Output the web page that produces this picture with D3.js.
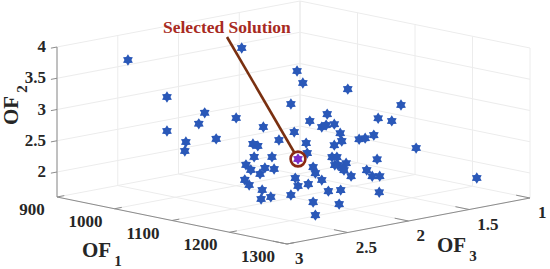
<!DOCTYPE html>
<html>
<head>
<meta charset="utf-8">
<script src="https://cdn.jsdelivr.net/npm/d3@7"></script>
<style>
html, body { margin: 0; padding: 0; background: #fff; }
text { font-family: "Liberation Serif", serif; font-weight: bold; fill: #262626; }
</style>
</head>
<body>
<div id="chart"></div>
<script>
var of1Ticks = [900, 1000, 1100, 1200, 1300];
var of2Ticks = [2, 2.5, 3, 3.5, 4];
var of2TickLabels = ["2", "2.5", "3", "3.5", "4"];
var of3Ticks = [3, 2.5, 2, 1.5, 1];
var of3TickLabels = ["3", "2.5", "2", "1.5", "1"];

var of1Values = [960, 993, 993, 1009, 1008, 1056, 1103, 1224, 1232, 1245, 1296,
    1231, 1269, 1221, 1148, 1143, 1175, 1198, 1295, 1237, 1252, 1247, 1251, 1258, 1263, 1224,
    1279, 1284, 1291, 1158, 1189, 1193, 1211, 1234, 1235, 1190, 1205, 1183, 1187, 1199, 1195,
    1207, 1182, 1186, 1197, 1196, 1204, 1221, 1225, 1227, 1236, 1240, 1242, 1247, 1253, 1263,
    1240, 1262, 1242, 1296, 1296, 1290, 1285, 1272, 1266, 1268, 1258, 1256, 1260, 1261, 1265,
    1294, 1258, 1264];
var of2Values = [3.794, 3.204, 2.66, 2.484, 2.34, 3.99, 3.624, 2.976, 3.232, 2.545, 2.067,
    3.878, 3.782, 3.542, 3.398, 3.222, 3.318, 3.174, 3.318, 3.27, 3.382, 3.174, 3.206, 3.222, 3.078, 3.094,
    2.982, 2.998, 3.046, 2.982, 2.902, 2.87, 2.966, 2.918, 2.758, 2.694, 2.694, 2.566, 2.486, 2.518, 2.422,
    2.502, 2.326, 2.246, 2.166, 2.022, 2.054, 2.086, 2.358, 2.23, 2.262, 2.534, 2.438, 2.326, 2.15, 2.166,
    1.974, 1.942, 1.766, 2.134, 2.39, 2.39, 2.486, 2.39, 2.486, 2.598, 2.566, 2.694, 2.694, 2.566, 2.518,
    2.662, 2.886, 2.95];
var of3Values = [2.7, 2.535, 2.535, 2.455, 2.459, 2.218, 1.985, 1.778, 1.74, 1.677, 1.419,
    2.543, 2.353, 2.594, 2.958, 2.983, 2.827, 2.712, 2.226, 2.514, 2.442, 2.463, 2.446, 2.412, 2.387, 2.581,
    2.307, 2.281, 2.243, 2.911, 2.755, 2.734, 2.645, 2.53, 2.526, 2.75, 2.674, 2.784, 2.763, 2.704, 2.725,
    2.666, 2.789, 2.772, 2.717, 2.721, 2.679, 2.594, 2.577, 2.564, 2.522, 2.501, 2.492, 2.463, 2.437, 2.383,
    2.501, 2.391, 2.492, 2.222, 2.218, 2.251, 2.273, 2.34, 2.37, 2.362, 2.408, 2.421, 2.4, 2.395, 2.374,
    2.23, 2.412, 2.379];
var selected = [1227, 2.662, 2.564];

function init() {
    var w = 550;
    var h = 269;

    var u = d3.scaleLinear().domain([900, 1300]).range([0, 1]);
    var v = d3.scaleLinear().domain([3, 1]).range([0, 1]);
    var z = d3.scaleLinear().domain([1.6, 4]).range([0, 150]);

    // flat projection of the box, left corner is OF1=900 OF3=3
    function px(a, b) {
        return 57 + 230 * u(a) + 243 * v(b);
    }
    function py(a, b, c) {
        return 197 + 47 * u(a) - 46 * v(b) - z(c);
    }

    var svg = d3.select("#chart")
        .append("svg")
        .attr("width", w)
        .attr("height", h)
        .style("display", "block");

    function seg(a1, b1, c1, a2, b2, c2, col, sw) {
        svg.append("line")
            .attr("x1", px(a1, b1)).attr("y1", py(a1, b1, c1))
            .attr("x2", px(a2, b2)).attr("y2", py(a2, b2, c2))
            .attr("stroke", col)
            .attr("stroke-width", sw);
    }

    var gridCol = "#ececec";
    // floor
    of1Ticks.forEach(function(t) { seg(t, 3, 1.6, t, 1, 1.6, gridCol, 1); });
    of3Ticks.forEach(function(t) { seg(900, t, 1.6, 1300, t, 1.6, gridCol, 1); });
    // wall at OF1=900
    of2Ticks.forEach(function(t) { seg(900, 3, t, 900, 1, t, gridCol, 1); });
    of3Ticks.forEach(function(t) { seg(900, t, 1.6, 900, t, 4, gridCol, 1); });
    // wall at OF3=1
    of2Ticks.forEach(function(t) { seg(900, 1, t, 1300, 1, t, gridCol, 1); });
    of1Ticks.forEach(function(t) { seg(t, 1, 1.6, t, 1, 4, gridCol, 1); });

    // box axes
    var axisCol = "#8c8c8c";
    seg(900, 3, 1.6, 900, 3, 4, axisCol, 1);
    seg(900, 3, 1.6, 1300, 3, 1.6, axisCol, 1);
    seg(1300, 3, 1.6, 1300, 1, 1.6, axisCol, 1);
    of1Ticks.forEach(function(t) { seg(t, 3, 1.6, t, 2.94, 1.6, axisCol, 1); });
    of3Ticks.forEach(function(t) { seg(1300, t, 1.6, 1276, t, 1.6, axisCol, 1); });
    of2Ticks.forEach(function(t) { seg(900, 3, t, 900, 3.05, t, axisCol, 1); });

    // tick labels
    svg.selectAll(".z-label")
        .data(of2Ticks)
        .enter()
        .append("text")
        .attr("x", 46)
        .attr("y", function(d) { return py(900, 3, d) + 5; })
        .attr("text-anchor", "end")
        .attr("font-size", 17)
        .text(function(d, i) { return of2TickLabels[i]; });

    svg.selectAll(".x-label")
        .data(of1Ticks)
        .enter()
        .append("text")
        .attr("x", function(d) { return px(d, 3) - (d == 900 ? 25 : 29); })
        .attr("y", function(d) { return py(d, 3, 1.6) + 18; })
        .attr("text-anchor", "middle")
        .attr("font-size", 17)
        .text(function(d) { return d; });

    svg.selectAll(".y-label")
        .data(of3Ticks)
        .enter()
        .append("text")
        .attr("x", function(d) { return px(1300, d) + 8; })
        .attr("y", function(d) { return py(1300, d, 1.6) + 20; })
        .attr("text-anchor", "start")
        .attr("font-size", 17)
        .text(function(d, i) { return of3TickLabels[i]; });

    // axis titles
    function title(g, main, sub) {
        g.attr("font-size", 21);
        g.append("tspan").text(main);
        g.append("tspan").attr("font-size", 15).attr("dy", 9).attr("dx", 3).text(sub);
    }
    title(svg.append("text").attr("x", 82).attr("y", 257), "OF", "1");
    title(svg.append("text").attr("x", 437).attr("y", 252), "OF", "3");
    title(svg.append("text").attr("transform", "translate(18,125) rotate(-90)"), "OF", "2");

    // points
    var star = {
        draw: function(ctx, size) {
            var r = Math.sqrt(size);
            var r2 = r * 0.62;
            for (var i = 0; i < 12; i++) {
                var a = i * Math.PI / 6 - Math.PI / 2;
                var q = i % 2 == 0 ? r : r2;
                if (i == 0) ctx.moveTo(q * Math.cos(a), q * Math.sin(a));
                else ctx.lineTo(q * Math.cos(a), q * Math.sin(a));
            }
            ctx.closePath();
        }
    };

    svg.selectAll(".pt")
        .data(of1Values)
        .enter()
        .append("path")
        .attr("class", "pt")
        .attr("d", d3.symbol().type(star).size(32))
        .attr("fill", "#2a58b8")
        .attr("transform", function(d, i) {
            return "translate(" + px(d, of3Values[i]) + "," + py(d, of3Values[i], of2Values[i]) + ")";
        });

    // selected solution
    var sx = px(selected[0], selected[2]);
    var sy = py(selected[0], selected[2], selected[1]);

    svg.append("line")
        .attr("x1", 227).attr("y1", 37)
        .attr("x2", sx - 4).attr("y2", sy - 7)
        .attr("stroke", "#7a3010")
        .attr("stroke-width", 2.6);

    svg.append("circle")
        .attr("cx", sx)
        .attr("cy", sy)
        .attr("r", 7.4)
        .attr("fill", "#fff")
        .attr("stroke", "#8a2a12")
        .attr("stroke-width", 2.6);

    svg.append("path")
        .attr("d", d3.symbol().type(star).size(32))
        .attr("fill", "#7a2dc8")
        .attr("transform", "translate(" + sx + "," + sy + ")");

    svg.append("text")
        .attr("x", 163)
        .attr("y", 33)
        .attr("font-size", 17.5)
        .style("fill", "#a82a22")
        .text("Selected Solution");
}

window.onload = init;
</script>
</body>
</html>
